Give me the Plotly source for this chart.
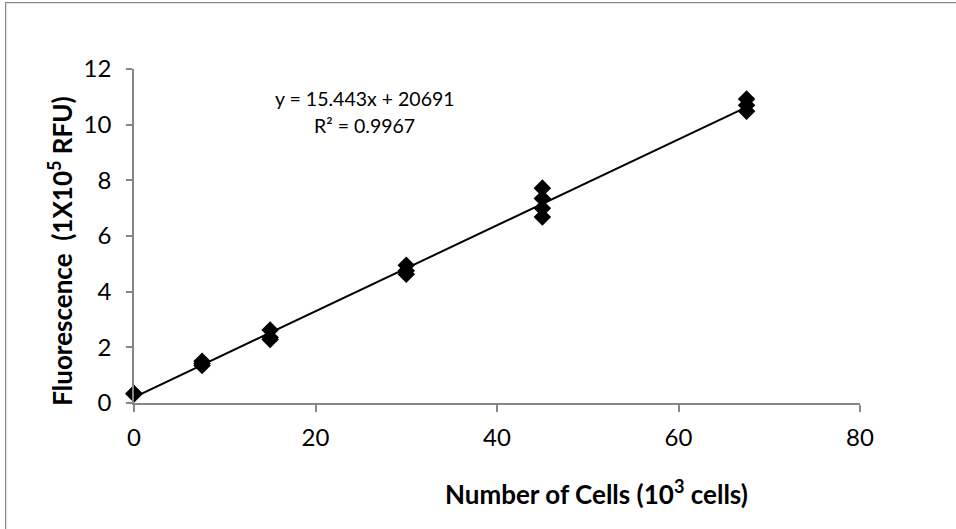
import plotly.graph_objects as go

# ---- data ----
cells_k = [0, 0, 7.5, 7.5, 7.5, 15, 15, 15, 30, 30, 30, 45, 45, 45, 45, 67.5, 67.5, 67.5]
fluor_1e5 = [0.34, 0.32, 1.50, 1.42, 1.35, 2.62, 2.35, 2.28, 4.95, 4.75, 4.63,
             7.72, 7.35, 7.00, 6.68, 10.92, 10.70, 10.48]
slope = 15.443      # RFU per cell
intercept = 20691   # RFU
r_squared = 0.9967
x_unit = 1e3
y_unit = 1e5
x_ticks = [0, 20, 40, 60, 80]
y_ticks = [0, 2, 4, 6, 8, 10, 12]

# trendline from the equation, over the data range
x_line = [min(cells_k), max(cells_k)]
y_line = [(slope * x * x_unit + intercept) / y_unit for x in x_line]

W, H = 956, 529
L, R, T, B = 134.3, 860.0, 69.3, 402.7


def px(xp):
    return (xp - L) / (R - L)


def py(yp):
    return (B - yp) / (B - T)


FONT = "Lato"
AX = "#868686"

fig = go.Figure()
fig.add_trace(go.Scatter(x=x_line, y=y_line, mode="lines",
                         line=dict(color="black", width=2), showlegend=False,
                         hoverinfo="skip", cliponaxis=False))
fig.add_trace(go.Scatter(x=cells_k, y=fluor_1e5, mode="markers",
                         marker=dict(symbol="diamond", size=13.5, color="black",
                                     line=dict(width=0)),
                         showlegend=False, cliponaxis=False))

fig.update_layout(
    width=W, height=H, autosize=False,
    margin=dict(l=L, r=W - R, t=T, b=H - B, pad=0),
    paper_bgcolor="white", plot_bgcolor="white",
    font=dict(family=FONT, color="black"),
    xaxis=dict(range=[0, 80], tickvals=x_ticks, showgrid=False, zeroline=False,
               showline=True, linecolor=AX, linewidth=1.5, ticks="outside",
               ticklen=7, tickcolor=AX, tickwidth=1.5,
               tickfont=dict(family=FONT, size=24, color="black"),
               ticklabelstandoff=5),
    yaxis=dict(range=[0, 12], tickvals=y_ticks, showgrid=False, zeroline=False,
               showline=True, linecolor=AX, linewidth=1.5, ticks="outside",
               ticklen=6, tickcolor=AX, tickwidth=1.5,
               tickfont=dict(family=FONT, size=24, color="black"),
               ticklabelstandoff=10),
    shapes=[dict(type="rect", xref="paper", yref="paper",
                 x0=px(6), x1=px(W + 10), y0=py(H + 10), y1=py(3),
                 line=dict(color=AX, width=1.2), fillcolor="rgba(0,0,0,0)",
                 layer="below")],
    annotations=[
        dict(text="y = 15.443x + 20691", xref="paper", yref="paper",
             x=px(365), y=py(99), showarrow=False, xanchor="center", yanchor="middle",
             font=dict(family=FONT, size=19.5, color="black")),
        dict(text=f"R² = {r_squared}", xref="paper", yref="paper",
             x=px(365), y=py(126), showarrow=False, xanchor="center", yanchor="middle",
             font=dict(family=FONT, size=19.5, color="black")),
        dict(text="<b>Number of Cells (10<sup>3</sup> cells)</b>", xref="paper", yref="paper",
             x=px(597), y=py(492), showarrow=False, xanchor="center", yanchor="middle",
             font=dict(family=FONT, size=26, color="black")),
        dict(text="<b>Fluorescence  (1X10<sup>5</sup> RFU)</b>", xref="paper", yref="paper",
             x=px(60), y=py(251), showarrow=False, xanchor="center", yanchor="middle",
             textangle=-90, font=dict(family=FONT, size=26, color="black")),
    ],
)

fig.write_html("out.html")
